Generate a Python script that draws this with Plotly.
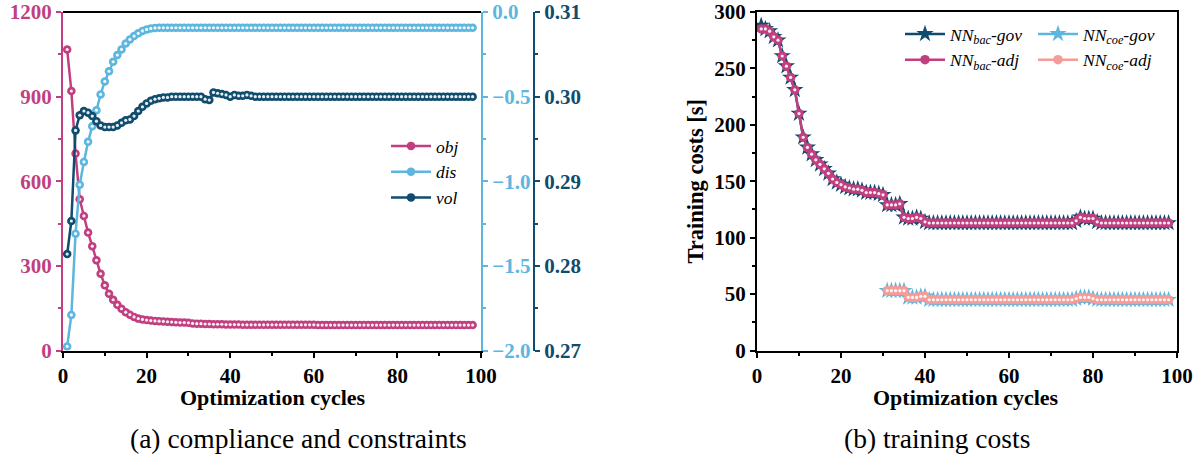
import plotly.graph_objects as go

# ---------------- data ----------------
cycles = list(range(1, 99))

obj = [1067, 920, 698, 536, 477, 418, 370, 320, 272, 231,
       201, 180, 162, 148, 136, 127, 119, 113, 110, 108,
       106, 105, 104, 103, 102, 101, 100, 99, 99, 98,
       96, 95, 95, 94, 94, 93, 93, 93, 92, 92,
       92, 92, 91, 91, 91, 91, 91, 91, 91, 91,
       91, 91, 91, 91, 91, 91, 91, 91, 91, 91,
       90, 90, 90, 90, 90, 90, 90, 90, 90, 90,
       90, 90, 90, 90, 90, 90, 90, 90, 90, 90,
       90, 90, 90, 90, 90, 90, 90, 90, 90, 90,
       90, 90, 90, 90, 90, 90, 90, 90]

dis = [-1.976, -1.79, -1.31, -1.02, -0.886, -0.767, -0.675, -0.58, -0.487, -0.41,
       -0.35, -0.294, -0.254, -0.221, -0.186, -0.162, -0.142, -0.126, -0.112, -0.103,
       -0.097, -0.094, -0.093, -0.093, -0.093, -0.093, -0.093, -0.093, -0.093, -0.093,
       -0.093, -0.093, -0.093, -0.093, -0.093, -0.093, -0.093, -0.093, -0.093, -0.093,
       -0.093, -0.093, -0.093, -0.093, -0.093, -0.093, -0.093, -0.093, -0.093, -0.093,
       -0.093, -0.093, -0.093, -0.093, -0.093, -0.093, -0.093, -0.093, -0.093, -0.093,
       -0.093, -0.093, -0.093, -0.093, -0.093, -0.093, -0.093, -0.093, -0.093, -0.093,
       -0.093, -0.093, -0.093, -0.093, -0.093, -0.093, -0.093, -0.093, -0.093, -0.093,
       -0.093, -0.093, -0.093, -0.093, -0.093, -0.093, -0.093, -0.093, -0.093, -0.093,
       -0.093, -0.093, -0.093, -0.093, -0.093, -0.093, -0.093, -0.093]

vol = [0.2814, 0.2853, 0.2960, 0.2978, 0.2983, 0.2981, 0.2977, 0.2971, 0.2966, 0.2964,
       0.2964, 0.2964, 0.2966, 0.2969, 0.2972, 0.2973, 0.2977, 0.2983, 0.2988, 0.2992,
       0.2995, 0.2997, 0.2998, 0.2999, 0.2999, 0.3000, 0.3000, 0.3000, 0.3000, 0.3000,
       0.3000, 0.3000, 0.3000, 0.2997, 0.2996, 0.3005, 0.3004, 0.3003, 0.3002, 0.3000,
       0.3002, 0.3001, 0.3001, 0.3002, 0.3001, 0.3000, 0.3000, 0.3000, 0.3000, 0.3000,
       0.3000, 0.3000, 0.3000, 0.3000, 0.3000, 0.3000, 0.3000, 0.3000, 0.3000, 0.3000,
       0.3000, 0.3000, 0.3000, 0.3000, 0.3000, 0.3000, 0.3000, 0.3000, 0.3000, 0.3000,
       0.3000, 0.3000, 0.3000, 0.3000, 0.3000, 0.3000, 0.3000, 0.3000, 0.3000, 0.3000,
       0.3000, 0.3000, 0.3000, 0.3000, 0.3000, 0.3000, 0.3000, 0.3000, 0.3000, 0.3000,
       0.3000, 0.3000, 0.3000, 0.3000, 0.3000, 0.3000, 0.3000, 0.3000]

bac_gov = [288, 285, 283, 278, 275, 261, 252, 242, 231, 210,
           189, 180, 174, 169, 165, 161, 157, 152, 149, 147,
           145, 144, 143, 143, 142, 140, 140, 140, 139, 138,
           129, 129, 129, 130, 118, 117, 117, 118, 117, 114,
           113, 113, 113, 113, 113, 113, 113, 113, 113, 113,
           113, 113, 113, 113, 113, 113, 113, 113, 113, 113,
           113, 113, 113, 113, 113, 113, 113, 113, 113, 113,
           113, 113, 113, 113, 113, 115, 118, 117, 117, 117,
           114, 113, 113, 113, 113, 113, 113, 113, 113, 113,
           113, 113, 113, 113, 113, 113, 113, 113]

bac_adj = [285, 285, 283, 278, 275, 261, 252, 242, 231, 210,
           189, 180, 174, 169, 165, 161, 157, 152, 149, 147,
           145, 144, 143, 143, 142, 140, 140, 140, 139, 138,
           129, 129, 129, 130, 118, 117, 117, 118, 117, 114,
           113, 113, 113, 113, 113, 113, 113, 113, 113, 113,
           113, 113, 113, 113, 113, 113, 113, 113, 113, 113,
           113, 113, 113, 113, 113, 113, 113, 113, 113, 113,
           113, 113, 113, 113, 113, 115, 118, 117, 117, 117,
           114, 113, 113, 113, 113, 113, 113, 113, 113, 113,
           113, 113, 113, 113, 113, 113, 113, 113]

coe_cycles = list(range(31, 99))
coe_gov = [53, 53, 53, 53, 53, 47, 47, 47, 48, 48,
           45, 45, 45, 45, 45, 45, 45, 45, 45, 45,
           45, 45, 45, 45, 45, 45, 45, 45, 45, 45,
           45, 45, 45, 45, 45, 45, 45, 45, 45, 45,
           45, 45, 45, 45, 45, 46, 47, 47, 47, 46,
           45, 45, 45, 45, 45, 45, 45, 45, 45, 45,
           45, 45, 45, 45, 45, 45, 45, 45]
coe_adj = [53, 53, 53, 53, 53, 47, 47, 47, 48, 48,
           45, 45, 45, 45, 45, 45, 45, 45, 45, 45,
           45, 45, 45, 45, 45, 45, 45, 45, 45, 45,
           45, 45, 45, 45, 45, 45, 45, 45, 45, 45,
           45, 45, 45, 45, 45, 46, 47, 47, 47, 46,
           45, 45, 45, 45, 45, 45, 45, 45, 45, 45,
           45, 45, 45, 45, 45, 45, 45, 45]

# ---------------- style ----------------
PINK = "#c13f7f"
LBLUE = "#5db6de"
DBLUE = "#0f4c6e"
SALMON = "#f59c98"
FONT = "Liberation Serif, Times New Roman, serif"
W, H = 1201, 458

def px_x(p):
    return p / W

def px_y(p):
    return 1 - p / H

tickfont = dict(family=FONT, size=21, weight="bold")

fig = go.Figure()

def dotted(x, y, name, color, size, xa, ya, leg):
    fig.add_trace(go.Scatter(x=x, y=y, name=name, mode="lines+markers",
                             line=dict(color=color, width=2.5),
                             marker=dict(symbol="circle", size=size, color=color, line=dict(width=0)),
                             xaxis=xa, yaxis=ya, legend=leg))
    fig.add_trace(go.Scatter(x=x, y=y, mode="markers", showlegend=False, hoverinfo="skip",
                             marker=dict(symbol="circle", size=3.2, color="rgba(255,255,255,0.9)",
                                         line=dict(width=0)),
                             xaxis=xa, yaxis=ya))

def starred(x, y, name, color, xa, ya, leg):
    fig.add_trace(go.Scatter(x=x, y=y, name=name, mode="lines+markers",
                             line=dict(color=color, width=2.5),
                             marker=dict(symbol="star", size=13, color=color, line=dict(width=0)),
                             xaxis=xa, yaxis=ya, legend=leg))

dotted(cycles, obj, "obj", PINK, 8.5, "x", "y", "legend")
dotted(cycles, dis, "dis", LBLUE, 8.5, "x", "y2", "legend")
dotted(cycles, vol, "vol", DBLUE, 8.5, "x", "y3", "legend")

starred(cycles, bac_gov, "NN<sub>bac</sub>-gov", DBLUE, "x2", "y4", "legend2")
starred(coe_cycles, coe_gov, "NN<sub>coe</sub>-gov", LBLUE, "x2", "y4", "legend3")
dotted(cycles, bac_adj, "NN<sub>bac</sub>-adj", PINK, 9.5, "x2", "y4", "legend2")
dotted(coe_cycles, coe_adj, "NN<sub>coe</sub>-adj", SALMON, 9.5, "x2", "y4", "legend3")

dom_left = [px_x(63), px_x(481)]
dom_right = [px_x(757), px_x(1177)]
dom_y = [px_y(350.5), px_y(12)]

title_font = dict(family=FONT, size=22, weight="bold", color="black")

common_x = dict(range=[0, 100], dtick=20, showline=True, linewidth=2, linecolor="black",
                ticks="outside", ticklen=5, tickwidth=2, tickcolor="black",
                minor=dict(dtick=10, ticks="outside", ticklen=3, tickwidth=1.5, tickcolor="black"),
                showgrid=False, zeroline=False, automargin=False, ticklabeloverflow="allow",
                tickfont=dict(tickfont, color="black"))

def yax(color, **kw):
    d = dict(showline=True, linewidth=2, linecolor=color,
             ticks="outside", ticklen=5, tickwidth=2, tickcolor=color,
             showgrid=False, zeroline=False, automargin=False, ticklabeloverflow="allow",
             tickfont=dict(tickfont, color=color))
    d.update(kw)
    return d

leg_font = dict(family=FONT, size=17.5, style="italic", color="black")

fig.update_layout(
    width=W, height=H,
    margin=dict(l=0, r=0, t=0, b=0, autoexpand=False),
    plot_bgcolor="white", paper_bgcolor="white",
    font=dict(family=FONT),
    xaxis=dict(common_x, domain=dom_left, anchor="y", mirror=False),
    yaxis=yax(PINK, domain=dom_y, range=[0, 1200], dtick=300, anchor="x",
              minor=dict(dtick=150, ticks="outside", ticklen=3, tickwidth=1.5, tickcolor=PINK)),
    yaxis2=yax(LBLUE, range=[-2.0, 0.0], dtick=0.5, tickformat=".1f", overlaying="y",
               side="right", anchor="x",
               minor=dict(dtick=0.25, ticks="outside", ticklen=3, tickwidth=1.5, tickcolor=LBLUE)),
    yaxis3=yax(DBLUE, range=[0.27, 0.31], dtick=0.01, tickformat=".2f", overlaying="y",
               side="right", anchor="free", position=px_x(534),
               minor=dict(dtick=0.005, ticks="outside", ticklen=3, tickwidth=1.5, tickcolor=DBLUE)),
    xaxis2=dict(common_x, domain=dom_right, anchor="y4", mirror=True),
    yaxis4=yax("black", domain=dom_y, range=[0, 300], dtick=50, anchor="x2", mirror=True,
               minor=dict(dtick=25, ticks="outside", ticklen=3, tickwidth=1.5, tickcolor="black"),
               title=dict(text="Training costs [s]", standoff=4,
                          font=dict(title_font, size=22.5))),
    legend=dict(x=px_x(386), y=px_y(128), xanchor="left", yanchor="top", itemwidth=40,
                bgcolor="rgba(0,0,0,0)", tracegroupgap=0, font=leg_font),
    legend2=dict(x=px_x(900), y=px_y(16), xanchor="left", yanchor="top", itemwidth=40,
                 bgcolor="rgba(0,0,0,0)", tracegroupgap=0, font=leg_font),
    legend3=dict(x=px_x(1033), y=px_y(16), xanchor="left", yanchor="top", itemwidth=40,
                 bgcolor="rgba(0,0,0,0)", tracegroupgap=0, font=leg_font),
    showlegend=True,
)

# top border line for the left panel
fig.add_shape(type="line", xref="paper", yref="paper",
              x0=dom_left[0], x1=dom_left[1], y0=dom_y[1], y1=dom_y[1],
              line=dict(color="black", width=2))

# x-axis titles
for cx in (273, 966):
    fig.add_annotation(text="Optimization cycles", xref="paper", yref="paper",
                       x=px_x(cx), y=px_y(397), xanchor="center", yanchor="middle",
                       showarrow=False, font=title_font)

cap_font = dict(family=FONT, size=27.5, color="black")
fig.add_annotation(text="(a) compliance and constraints", xref="paper", yref="paper",
                   x=px_x(298), y=px_y(438), xanchor="center", yanchor="middle",
                   showarrow=False, font=cap_font)
fig.add_annotation(text="(b) training costs", xref="paper", yref="paper",
                   x=px_x(937), y=px_y(438), xanchor="center", yanchor="middle",
                   showarrow=False, font=cap_font)

fig.write_html("out.html", config={"displayModeBar": False},
               post_script="document.body.style.margin='0';document.body.style.padding='0';"
                           "document.body.style.overflow='hidden';")
